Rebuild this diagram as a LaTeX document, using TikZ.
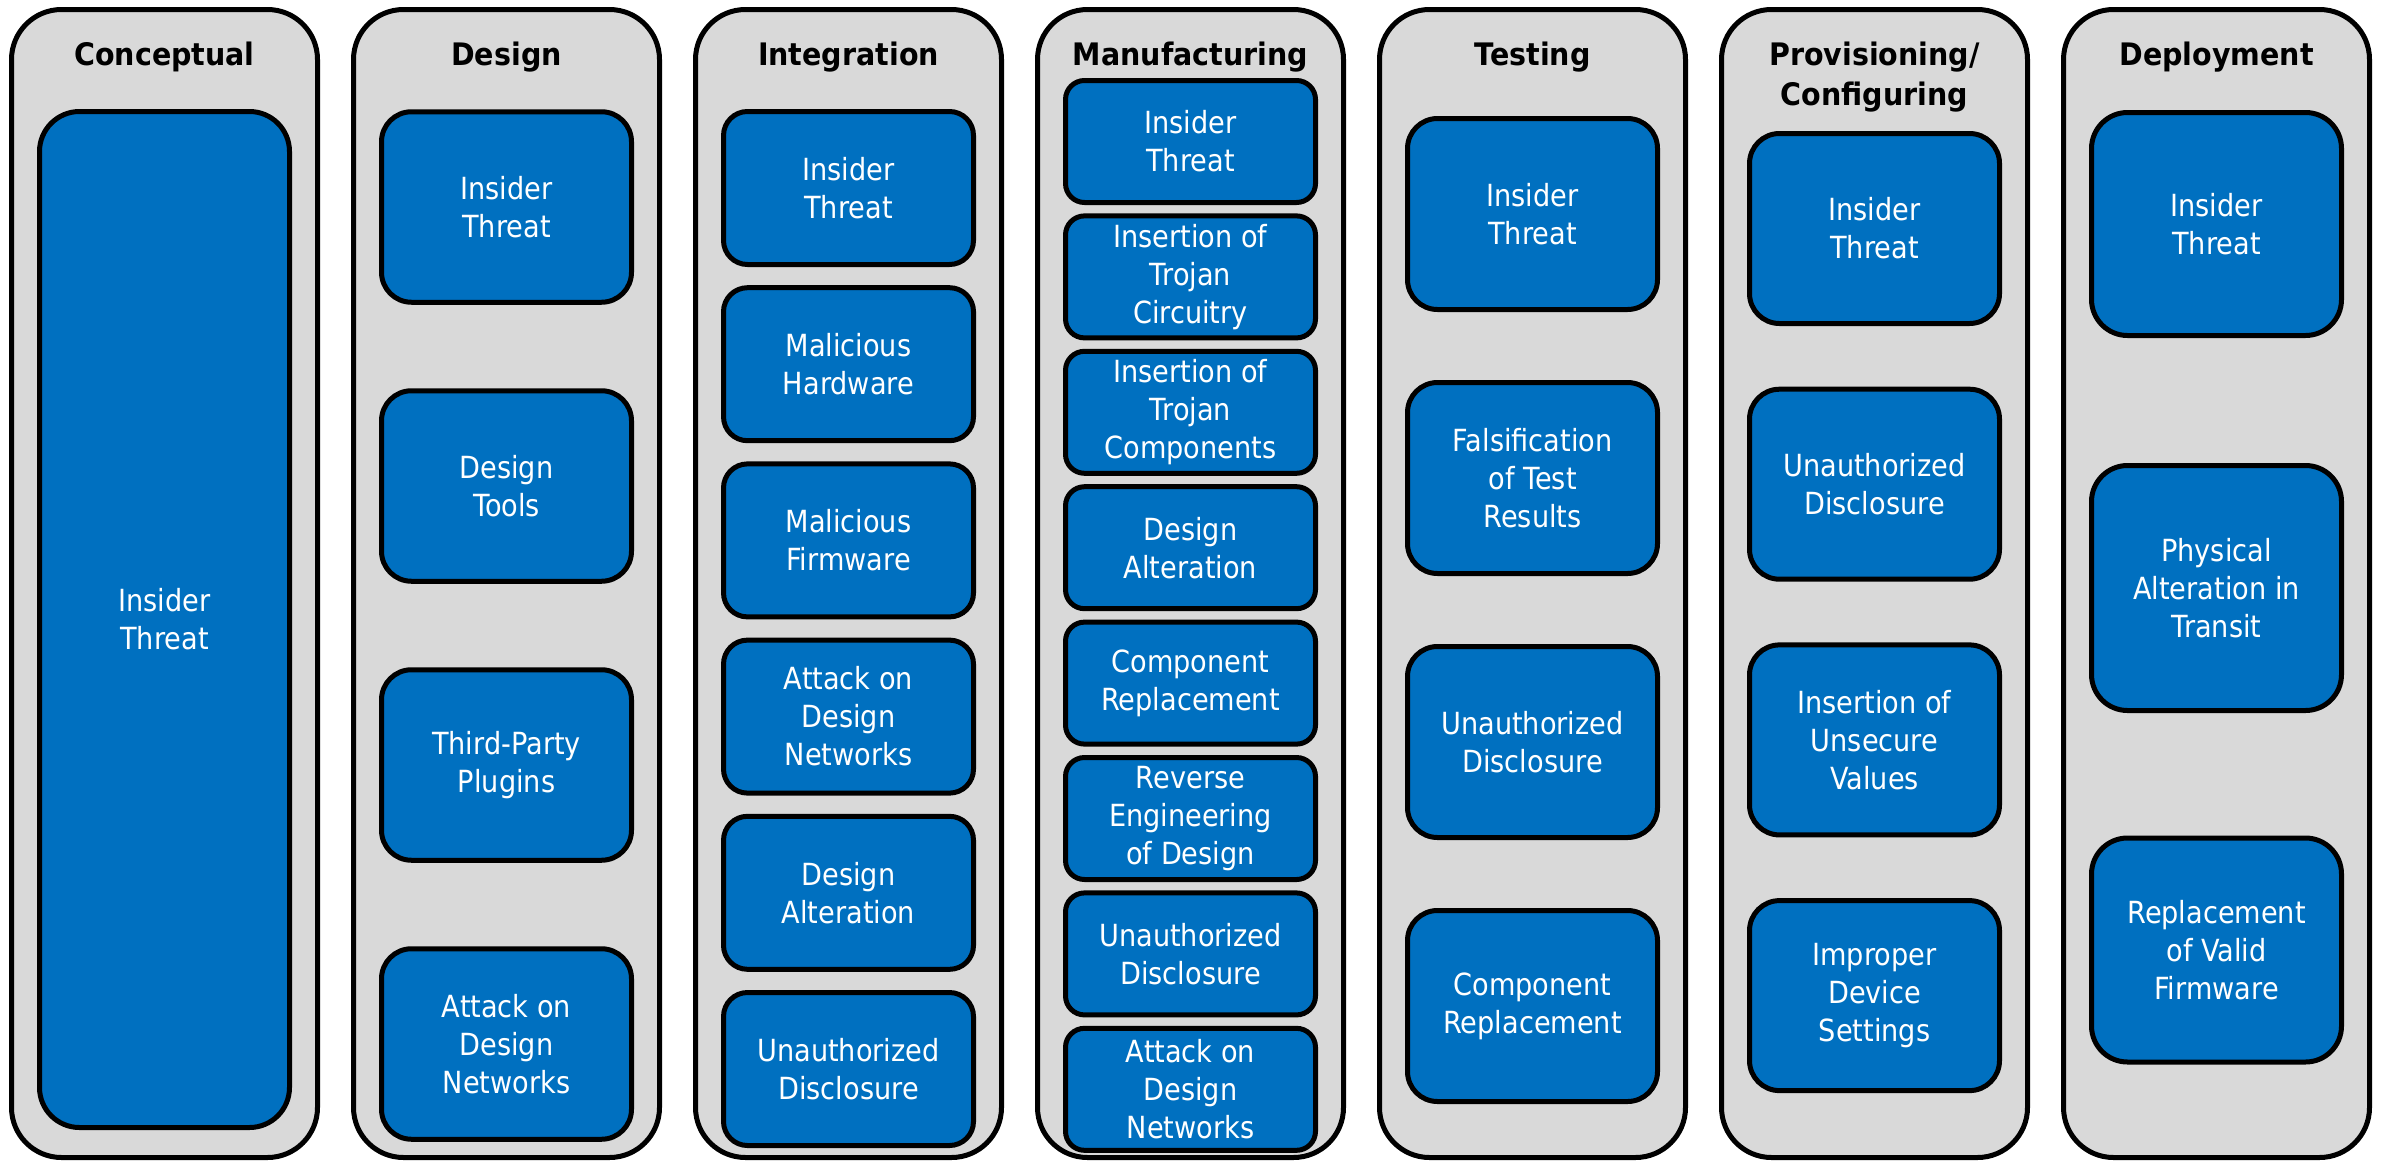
\documentclass[tikz,border=0pt]{standalone}
\usepackage{fontspec}
\newfontfamily\bodyfont{DejaVu Sans}[FakeStretch=0.89]
\newfontfamily\headfont{DejaVu Sans}[FakeStretch=0.92]
\definecolor{stagegray}{HTML}{D9D9D9}
\definecolor{threatblue}{HTML}{0070C0}
\tikzset{
  stage/.style={draw=black, line width=0.5mm, fill=stagegray, rounded corners=5mm,
    minimum width=30.6mm, minimum height=114.8mm, inner sep=0pt},
  head/.style={anchor=base, align=center, inner sep=0pt,
    font={\headfont\bfseries\fontsize{8.82}{11.2}\selectfont}},
  threat/.style={draw=black, line width=0.5mm, fill=threatblue, text=white,
    align=center, inner sep=0pt, minimum width=25mm,
    font={\bodyfont\fontsize{8.68}{10.81}\selectfont}},
  cbox/.style={threat, minimum height=101.6mm, rounded corners=4mm},
  dbox/.style={threat, minimum height=19.05mm, rounded corners=3mm},
  ibox/.style={threat, minimum height=15.3mm, rounded corners=2.4mm},
  mbox/.style={threat, minimum height=12.2mm, rounded corners=1.9mm},
  tbox/.style={threat, minimum height=19.1mm, rounded corners=3mm},
  pbox/.style={threat, minimum height=19.0mm, rounded corners=3mm},
  ybox/.style={threat, rounded corners=3.6mm},
}
\begin{document}
\begin{tikzpicture}[x=0.1mm, y=-0.1mm]
  \useasboundingbox (0,0) rectangle (2382,1162);
  \fill[white] (0,0) rectangle (2382,1162);

  % stage columns
  \node[stage] (colC) at (164.5,583.5) {};
  \node[stage] (colD) at (506.5,583.5) {};
  \node[stage] (colI) at (848.5,583.5) {};
  \node[stage] (colM) at (1190.5,583.5) {};
  \node[stage] (colT) at (1532.5,583.5) {};
  \node[stage] (colP) at (1874.5,583.5) {};
  \node[stage] (colY) at (2216.5,583.5) {};

  % stage titles
  \node[head] (hC) at (164.5,65) {Conceptual};
  \node[head] (hD) at (506.5,65) {Design};
  \node[head] (hI) at (848.5,65) {Integration};
  \node[head] (hM) at (1190.5,65) {Manufacturing};
  \node[head] (hT) at (1532.5,65) {Testing};
  \node[head, anchor=center] (hP) at (1874.5,77) {Provisioning/\\Configuring};
  \node[head] (hY) at (2216.5,65) {Deployment};

  % Conceptual
  \node[cbox] (c1) at (164.5,619.5) {Insider\\Threat};

  % Design
  \node[dbox] (d1) at (506.5,207) {Insider\\Threat};
  \node[dbox] (d2) at (506.5,486) {Design\\Tools};
  \node[dbox] (d3) at (506.5,765) {Third-Party\\Plugins};
  \node[dbox] (d4) at (506.5,1044) {Attack on\\Design\\Networks};

  % Integration
  \node[ibox] (i1) at (848.5,188) {Insider\\Threat};
  \node[ibox] (i2) at (848.5,364.2) {Malicious\\Hardware};
  \node[ibox] (i3) at (848.5,540.4) {Malicious\\Firmware};
  \node[ibox] (i4) at (848.5,716.6) {Attack on\\Design\\Networks};
  \node[ibox] (i5) at (848.5,892.8) {Design\\Alteration};
  \node[ibox] (i6) at (848.5,1069) {Unauthorized\\Disclosure};

  % Manufacturing
  \node[mbox] (m1) at (1190.5,141.5) {Insider\\Threat};
  \node[mbox] (m2) at (1190.5,276.9) {Insertion of\\Trojan\\Circuitry};
  \node[mbox] (m3) at (1190.5,412.3) {Insertion of\\Trojan\\Components};
  \node[mbox] (m4) at (1190.5,547.7) {Design\\Alteration};
  \node[mbox] (m5) at (1190.5,683.1) {Component\\Replacement};
  \node[mbox] (m6) at (1190.5,818.5) {Reverse\\Engineering\\of Design};
  \node[mbox] (m7) at (1190.5,953.9) {Unauthorized\\Disclosure};
  \node[mbox] (m8) at (1190.5,1089.3) {Attack on\\Design\\Networks};

  % Testing
  \node[tbox] (t1) at (1532.5,214) {Insider\\Threat};
  \node[tbox] (t2) at (1532.5,478) {Falsification\\of Test\\Results};
  \node[tbox] (t3) at (1532.5,742) {Unauthorized\\Disclosure};
  \node[tbox] (t4) at (1532.5,1006) {Component\\Replacement};

  % Provisioning / Configuring
  \node[pbox] (p1) at (1874.5,228.5) {Insider\\Threat};
  \node[pbox] (p2) at (1874.5,484.2) {Unauthorized\\Disclosure};
  \node[pbox] (p3) at (1874.5,739.9) {Insertion of\\Unsecure\\Values};
  \node[pbox] (p4) at (1874.5,995.6) {Improper\\Device\\Settings};

  % Deployment
  \node[ybox, minimum height=22.3mm] (y1) at (2216.5,224) {Insider\\Threat};
  \node[ybox, minimum height=24.5mm] (y2) at (2216.5,588) {Physical\\Alteration in\\Transit};
  \node[ybox, minimum height=22.4mm] (y3) at (2216.5,950) {Replacement\\of Valid\\Firmware};
\end{tikzpicture}
\end{document}
